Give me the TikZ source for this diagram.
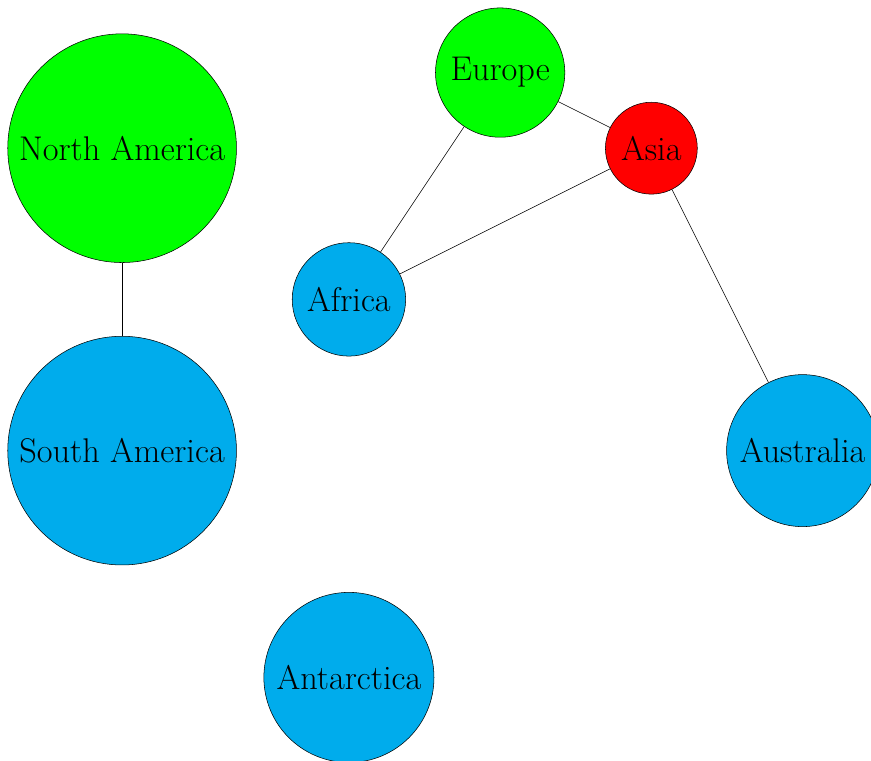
\documentclass[tikz,border=0pt]{standalone}
\usepackage{tikz}
\definecolor{landblue}{RGB}{0,172,236}
\begin{document}
\begin{tikzpicture}[every node/.style={font=\fontsize{25.8}{31}\selectfont}]
      \useasboundingbox (-3.23,3.92) rectangle (19.81,-16.21);
      \tikzset{continent/.style={draw, circle, inner sep=0pt}}
      % continents
      \node[continent, fill=green, minimum size=6.05cm] (namerica) at (0,0) {North America};
      \node[continent, fill=landblue, minimum size=6.05cm] (samerica) at (0,-8) {South America};
      \node[continent, fill=green, minimum size=3.42cm] (europe) at (10,2) {Europe};
      \node[continent, fill=red, minimum size=2.43cm] (asia) at (14,0) {Asia};
      \node[continent, fill=landblue, minimum size=3.0cm] (africa) at (6,-4) {Africa};
      \node[continent, fill=landblue, minimum size=4.02cm] (australia) at (18,-8) {Australia};
      \node[continent, fill=landblue, minimum size=4.5cm] (antarctica) at (6,-14) {Antarctica};
      % links
      \draw (namerica) -- (samerica);
      \draw (europe) -- (asia);
      \draw (europe) -- (africa);
      \draw (asia) -- (africa);
      \draw (asia) -- (australia);
\end{tikzpicture}
\end{document}
